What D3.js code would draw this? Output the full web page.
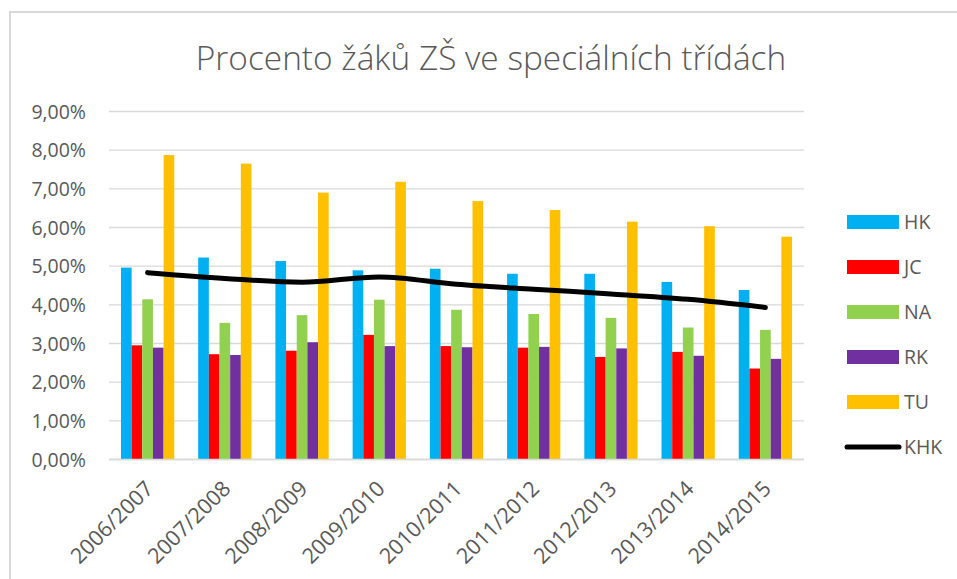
<!DOCTYPE html>
<html>
<head>
<meta charset="utf-8">
<script src="https://cdn.jsdelivr.net/npm/d3@7"></script>
<style>
  html, body { margin: 0; padding: 0; background: #fff; }
  svg { display: block; }
  svg text { font-family: "Open Sans", "Liberation Sans", sans-serif; }
  .tick text { fill: #595959; }
</style>
</head>
<body>
<svg id="chart" width="957" height="579"></svg>
<script>
  const TITLE = "Procento žáků ZŠ ve speciálních třídách";
  const years = ["2006/2007", "2007/2008", "2008/2009", "2009/2010", "2010/2011",
    "2011/2012", "2012/2013", "2013/2014", "2014/2015"];
  const regions = ["HK", "JC", "NA", "RK", "TU"];
  const regionColors = ["#00b0f0", "#ff0000", "#92d050", "#7030a0", "#ffc000"];
  // values in percent
  const hk = [4.95, 5.21, 5.12, 4.88, 4.92, 4.79, 4.79, 4.58, 4.37];
  const jc = [2.94, 2.71, 2.80, 3.21, 2.92, 2.88, 2.64, 2.77, 2.34];
  const na = [4.13, 3.52, 3.72, 4.12, 3.86, 3.75, 3.65, 3.40, 3.34];
  const rk = [2.88, 2.69, 3.02, 2.92, 2.89, 2.90, 2.86, 2.67, 2.59];
  const tu = [7.86, 7.64, 6.89, 7.17, 6.67, 6.44, 6.14, 6.02, 5.75];
  const khk = [4.82, 4.67, 4.57, 4.71, 4.52, 4.39, 4.27, 4.13, 3.92];
  const yTicks = [0, 1, 2, 3, 4, 5, 6, 7, 8, 9];

  const seriesValues = [hk, jc, na, rk, tu];

  const svg = d3.select("#chart");
  const margin = { left: 109, right: 153, top: 111, bottom: 120 };
  const W = 957, H = 579;

  // outer chart frame
  svg.append("rect")
    .attr("x", 10).attr("y", 12)
    .attr("width", 960).attr("height", 600)
    .attr("fill", "#fff")
    .attr("stroke", "#d9d9d9")
    .attr("stroke-width", 2);

  svg.append("text")
    .attr("x", 491).attr("y", 70)
    .attr("text-anchor", "middle")
    .attr("fill", "#595959")
    .style("font-size", "33.4px")
    .style("font-weight", 300)
    .text(TITLE);

  const x = d3.scaleBand()
    .domain(years)
    .range([margin.left, W - margin.right])
    .paddingInner(0.31)
    .paddingOuter(0.155);

  const xInner = d3.scaleBand()
    .domain(regions)
    .range([0, x.bandwidth()]);

  const y = d3.scaleLinear()
    .domain([0, 9])
    .range([H - margin.bottom, margin.top]);

  // gridlines
  const yAxis = d3.axisLeft(y)
    .tickValues(yTicks)
    .tickSize(-(W - margin.right - margin.left))
    .tickPadding(23)
    .tickFormat((d) => d.toFixed(2).replace(".", ",") + "%");

  const gy = svg.append("g")
    .attr("transform", `translate(${margin.left},0)`)
    .call(yAxis)
    .attr("font-family", null);
  gy.select(".domain").remove();
  gy.selectAll(".tick line").attr("stroke", "#d9d9d9").attr("stroke-width", 1.3);
  gy.selectAll(".tick text").style("font-size", "19.5px").attr("dy", "0.36em");

  // bars
  const groups = svg.append("g").selectAll("g")
    .data(years)
    .join("g")
    .attr("transform", (d) => `translate(${x(d)},0)`);

  groups.selectAll("rect")
    .data((d, i) => regions.map((r, j) => ({ region: r, color: regionColors[j], value: seriesValues[j][i] })))
    .join("rect")
    .attr("x", (d) => xInner(d.region))
    .attr("width", xInner.bandwidth())
    .attr("y", (d) => y(d.value))
    .attr("height", (d) => y(0) - y(d.value))
    .attr("fill", (d) => d.color);

  // x axis
  const gx = svg.append("g")
    .attr("transform", `translate(0,${y(0)})`)
    .call(d3.axisBottom(x).tickSize(0).tickPadding(0))
    .attr("font-family", null);
  gx.select(".domain").attr("stroke", "#d9d9d9").attr("stroke-width", 1.3)
    .attr("d", `M${margin.left},0.5H${W - margin.right}`);
  gx.selectAll(".tick text")
    .style("font-size", "21.5px")
    .attr("text-anchor", "end")
    .attr("dy", 0)
    .attr("transform", "translate(7,31) rotate(-45)");

  // KHK line
  const line = d3.line()
    .x((d, i) => x(years[i]) + x.bandwidth() / 2)
    .y((d) => y(d))
    .curve(d3.curveMonotoneX);

  svg.append("path")
    .datum(khk)
    .attr("d", line)
    .attr("fill", "none")
    .attr("stroke", "#000")
    .attr("stroke-width", 5)
    .attr("stroke-linecap", "round");

  // legend
  const legend = svg.append("g").attr("transform", "translate(847,222)");
  const legendItems = regions.concat(["KHK"]);
  const li = legend.selectAll("g")
    .data(legendItems)
    .join("g")
    .attr("transform", (d, i) => `translate(0,${i * 45})`);
  li.each(function (d, i) {
    const g = d3.select(this);
    if (i < regions.length) {
      g.append("rect").attr("x", 0).attr("y", -7).attr("width", 52).attr("height", 14)
        .attr("fill", regionColors[i]);
    } else {
      g.append("line").attr("x1", 0).attr("x2", 52).attr("y1", 0).attr("y2", 0)
        .attr("stroke", "#000").attr("stroke-width", 5).attr("stroke-linecap", "round");
    }
    g.append("text").attr("x", 57).attr("dy", "0.36em")
      .attr("fill", "#595959")
      .style("font-size", "19.5px")
      .text(d);
  });
</script>
</body>
</html>
